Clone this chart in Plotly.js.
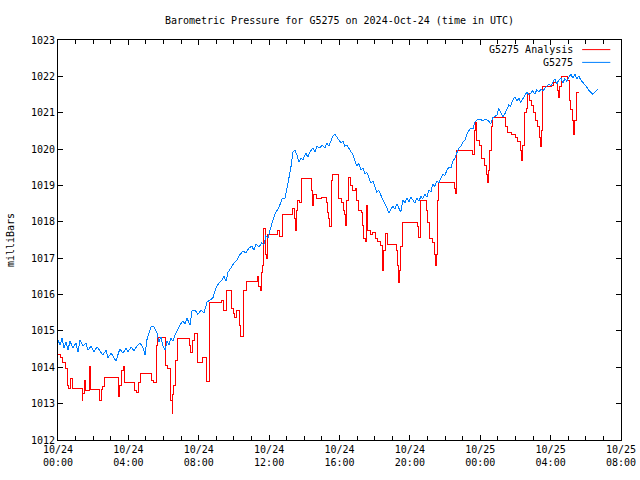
<!DOCTYPE html>
<html>
<head>
<meta charset="utf-8">
<script src="https://cdn.plot.ly/plotly-3.0.1.min.js"></script>
<style>html,body{margin:0;padding:0;background:#fff;}#chart{width:640px;height:480px;}
#chart path.js-line{shape-rendering:crispEdges;}
</style>
</head>
<body>
<div id="chart"></div>
<script>
// Minutes after 2024-10-24 00:00 UTC, and pressure in millibars
const stationName = "G5275";
const analysisName = "G5275 Analysis";

const stationMinutes = [0,7,14,20,27,34,41,51,61,68,75,85,95,102,113,123,133,143,153,164,170,181,191,198,205,211,222,232,239,249,259,269,280,290,297,303,310,317,327,338,344,351,358,365,372,378,385,392,399,406,416,426,433,440,450,457,467,477,488,498,508,518,528,539,549,559,566,573,580,590,600,610,620,631,641,651,661,668,675,685,695,702,709,716,723,733,743,753,764,774,781,788,794,801,808,815,822,828,835,845,852,859,869,876,883,893,900,910,917,924,931,937,944,951,958,965,972,978,985,992,999,1006,1012,1019,1026,1033,1040,1047,1053,1060,1067,1074,1081,1087,1094,1101,1108,1115,1122,1128,1135,1142,1149,1156,1162,1169,1176,1183,1190,1197,1203,1210,1217,1224,1231,1238,1244,1251,1258,1265,1272,1278,1285,1292,1299,1306,1313,1319,1326,1333,1340,1347,1354,1360,1367,1374,1381,1388,1394,1401,1408,1415,1422,1428,1439,1449,1459,1469,1476,1483,1490,1497,1503,1510,1517,1524,1531,1537,1544,1551,1558,1565,1572,1578,1585,1592,1599,1606,1612,1619,1626,1633,1640,1647,1653,1660,1667,1674,1681,1688,1694,1701,1708,1715,1722,1728,1735,1742,1749,1756,1763,1769,1776,1783,1790,1797,1803,1810,1817,1824,1831,1838,1841];
const stationPressure = [1014.75,1014.61,1014.80,1014.53,1014.69,1014.47,1014.72,1014.53,1014.67,1014.42,1014.75,1014.58,1014.67,1014.47,1014.58,1014.42,1014.56,1014.45,1014.34,1014.47,1014.25,1014.39,1014.28,1014.17,1014.36,1014.50,1014.39,1014.53,1014.42,1014.56,1014.45,1014.58,1014.67,1014.53,1014.34,1014.75,1014.94,1015.11,1015.11,1014.94,1014.69,1014.83,1014.58,1014.47,1014.72,1014.61,1014.80,1014.72,1014.89,1015.02,1015.16,1015.27,1015.19,1015.35,1015.16,1015.55,1015.57,1015.46,1015.57,1015.49,1015.79,1015.85,1015.90,1016.18,1016.32,1016.40,1016.51,1016.37,1016.62,1016.73,1016.87,1016.95,1017.09,1017.20,1017.14,1017.28,1017.33,1017.22,1017.39,1017.31,1017.42,1017.36,1017.61,1017.56,1017.77,1018.05,1018.27,1018.38,1018.63,1018.65,1018.93,1019.20,1019.48,1019.92,1019.97,1019.84,1019.64,1019.75,1019.70,1019.89,1019.78,1019.92,1020.03,1019.92,1020.08,1020.03,1020.11,1020.03,1020.17,1020.08,1020.25,1020.36,1020.41,1020.33,1020.25,1020.17,1020.22,1020.08,1020.11,1020.03,1019.92,1019.84,1019.70,1019.53,1019.61,1019.42,1019.48,1019.31,1019.37,1019.20,1019.07,1019.12,1018.96,1018.82,1018.87,1018.71,1018.60,1018.49,1018.38,1018.24,1018.32,1018.43,1018.35,1018.49,1018.38,1018.27,1018.60,1018.52,1018.65,1018.54,1018.68,1018.60,1018.52,1018.65,1018.57,1018.71,1018.63,1018.76,1018.68,1018.87,1018.82,1019.04,1018.98,1019.12,1019.07,1019.20,1019.31,1019.26,1019.42,1019.50,1019.48,1019.67,1019.75,1019.89,1020.03,1020.08,1020.19,1020.25,1020.41,1020.50,1020.58,1020.55,1020.74,1020.80,1020.83,1020.77,1020.83,1020.77,1020.69,1020.86,1020.91,1020.94,1021.13,1021.02,1020.88,1020.97,1021.13,1021.21,1021.18,1021.35,1021.43,1021.32,1021.40,1021.27,1021.38,1021.49,1021.57,1021.49,1021.54,1021.60,1021.52,1021.63,1021.57,1021.65,1021.60,1021.68,1021.73,1021.79,1021.73,1021.84,1021.93,1021.79,1021.90,1021.95,1021.82,1021.93,1021.87,1021.98,1022.06,1021.95,1022.06,1021.93,1022.01,1021.90,1021.84,1021.76,1021.71,1021.62,1021.57,1021.51,1021.57,1021.62,1021.65];

const analysisMinutes = [0,10,17,24,31,34,37,41,48,82,85,89,95,106,109,112,143,147,153,160,205,208,211,218,225,228,262,266,273,283,320,324,337,341,365,368,375,382,385,389,392,395,402,406,450,453,460,464,477,494,508,515,518,559,566,573,576,593,597,603,610,620,624,631,634,644,682,685,689,695,699,702,706,712,716,747,757,764,801,808,811,815,818,825,832,866,869,873,883,900,914,920,924,927,931,934,937,955,968,972,978,982,985,992,999,1006,1016,1019,1026,1036,1040,1043,1050,1053,1057,1064,1074,1084,1091,1101,1105,1108,1111,1118,1122,1156,1159,1162,1166,1169,1176,1227,1231,1237,1258,1261,1268,1278,1285,1289,1292,1295,1299,1353,1357,1360,1377,1415,1422,1425,1428,1439,1445,1456,1462,1466,1469,1473,1480,1483,1527,1534,1548,1561,1568,1578,1582,1585,1592,1599,1602,1609,1616,1623,1629,1636,1643,1647,1650,1653,1684,1691,1705,1708,1711,1718,1739,1745,1749,1756,1759,1762,1769,1776];
const analysisPressure = [1014.34,1014.28,1014.12,1013.98,1013.92,1013.51,1013.43,1013.70,1013.43,1013.10,1013.29,1013.65,1013.37,1013.46,1014.03,1013.40,1013.10,1013.40,1013.46,1013.73,1013.37,1013.21,1013.51,1013.92,1014.01,1013.57,1013.37,1013.32,1013.59,1013.84,1013.65,1013.57,1014.61,1014.83,1014.34,1014.06,1013.98,1013.51,1013.10,1012.74,1013.24,1013.51,1014.20,1014.78,1014.61,1014.42,1014.75,1014.94,1014.14,1014.28,1013.62,1014.75,1015.77,1015.85,1015.57,1015.77,1016.12,1015.63,1015.49,1015.38,1015.57,1015.16,1014.86,1015.16,1016.12,1016.37,1016.51,1016.21,1016.12,1016.62,1016.81,1017.83,1017.09,1017.00,1017.64,1017.77,1017.61,1018.21,1018.38,1018.10,1017.77,1018.32,1018.60,1018.52,1019.20,1018.87,1018.46,1018.74,1018.63,1018.68,1018.54,1018.27,1018.10,1017.86,1018.60,1019.15,1019.31,1018.65,1018.54,1018.32,1018.19,1017.91,1018.60,1019.23,1019.01,1018.87,1018.93,1018.60,1018.32,1018.27,1017.91,1017.55,1017.47,1018.46,1017.77,1017.64,1017.70,1017.55,1017.47,1017.36,1016.95,1016.67,1017.22,1017.69,1017.39,1017.22,1016.81,1016.32,1016.67,1017.31,1017.97,1017.86,1017.58,1018.60,1018.32,1017.99,1017.55,1017.44,1017.09,1016.81,1017.09,1018.60,1019.07,1018.93,1018.79,1019.97,1019.95,1019.86,1020.52,1020.74,1020.25,1020.11,1019.75,1019.56,1019.29,1019.07,1019.42,1019.97,1020.61,1020.88,1020.61,1020.47,1020.39,1020.33,1020.22,1019.97,1019.70,1020.11,1021.02,1021.13,1021.54,1021.35,1021.21,1021.02,1020.80,1020.61,1020.33,1020.06,1020.52,1021.71,1021.76,1021.84,1021.62,1021.43,1021.71,1022.01,1021.90,1021.35,1021.08,1020.80,1020.39,1020.80,1021.57,1021.57];

const xTickValues = ["2024-10-24 00:00","2024-10-24 04:00","2024-10-24 08:00","2024-10-24 12:00","2024-10-24 16:00","2024-10-24 20:00","2024-10-25 00:00","2024-10-25 04:00","2024-10-25 08:00"];
const xTickLabels = ["10/24<br>00:00","10/24<br>04:00","10/24<br>08:00","10/24<br>12:00","10/24<br>16:00","10/24<br>20:00","10/25<br>00:00","10/25<br>04:00","10/25<br>08:00"];

const base = Date.UTC(2024, 9, 24, 0, 0, 0);
function toDate(m) {
  return new Date(base + m * 60000).toISOString().replace('T', ' ').slice(0, 19);
}

const FONT = "DejaVu Sans Mono, Liberation Mono, monospace";

const traces = [
  {
    x: analysisMinutes.map(toDate), y: analysisPressure, name: analysisName,
    type: 'scatter', mode: 'lines', line: {color: '#ff0000', width: 1, shape: 'hv'},
    hoverinfo: 'skip'
  },
  {
    x: stationMinutes.map(toDate), y: stationPressure, name: stationName,
    type: 'scatter', mode: 'lines', line: {color: '#0080ff', width: 1},
    hoverinfo: 'skip'
  }
];

const axisCommon = {
  showline: true, mirror: 'ticks', linecolor: '#000', linewidth: 1,
  ticks: 'inside', ticklen: 5, tickwidth: 1, tickcolor: '#000',
  showgrid: false, zeroline: false,
  tickfont: {family: FONT, size: 10, color: '#000'}
};

const layout = {
  width: 640, height: 480,
  margin: {l: 58, r: 19, t: 40, b: 40, pad: 0},
  paper_bgcolor: '#fff', plot_bgcolor: '#fff',
  showlegend: false,
  title: {text: 'Barometric Pressure for G5275 on 2024-Oct-24 (time in UTC)',
          font: {family: FONT, size: 10, color: '#000'}, xref: 'paper', x: 0.5, xanchor: 'center', y: 0.958, yanchor: 'middle'},
  xaxis: Object.assign({}, axisCommon, {
    type: 'date',
    range: ['2024-10-24 00:00', '2024-10-25 08:00'],
    tickmode: 'array', tickvals: xTickValues, ticktext: xTickLabels,
    minor: {dtick: 3600000, tick0: '2024-10-24 00:00', ticks: 'inside', ticklen: 4, tickcolor: '#000', tickwidth: 1, showgrid: false}
  }),
  yaxis: Object.assign({}, axisCommon, {
    range: [1012, 1023], dtick: 1, tick0: 1012, tickformat: 'd',
    title: {text: 'milliBars', font: {family: FONT, size: 10, color: '#000'}, standoff: 14}
  }),
  annotations: [
    {xref: 'paper', yref: 'paper', x: 0.918, y: 0.976, xanchor: 'right', yanchor: 'middle',
     text: analysisName, showarrow: false, font: {family: FONT, size: 10, color: '#000'}},
    {xref: 'paper', yref: 'paper', x: 0.918, y: 0.944, xanchor: 'right', yanchor: 'middle',
     text: stationName, showarrow: false, font: {family: FONT, size: 10, color: '#000'}}
  ],
  shapes: [
    {type: 'line', xref: 'paper', yref: 'paper', x0: 0.931, x1: 0.981, y0: 0.976, y1: 0.976, line: {color: '#ff0000', width: 1}},
    {type: 'line', xref: 'paper', yref: 'paper', x0: 0.931, x1: 0.981, y0: 0.944, y1: 0.944, line: {color: '#0080ff', width: 1}}
  ]
};

Plotly.newPlot('chart', traces, layout, {staticPlot: true, displayModeBar: false});
</script>
</body>
</html>
